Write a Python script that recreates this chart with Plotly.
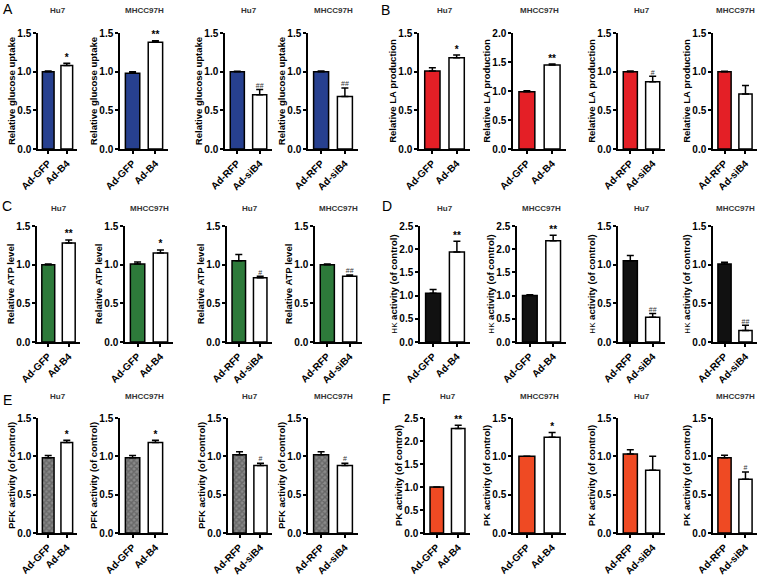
import plotly.graph_objects as go

W, H = 766, 576

# ---------------- data ----------------
cells = ["Hu7", "MHCC97H", "Hu7", "MHCC97H"]
groups_oe = ["Ad-GFP", "Ad-B4"]
groups_kd = ["Ad-RFP", "Ad-siB4"]

panel_letters = ["A", "B", "C", "D", "E", "F"]
ytitles = [
    "<b>Relative glucose uptake</b>",
    "<b>Relative LA production</b>",
    "<b>Relative ATP level</b>",
    "<span style='font-size:8px'>HK</span> <b>activity (of control)</b>",
    "<b>PFK activity (of control)</b>",
    "<b>PK activity (of control)</b>",
]

A_ctrl = [1.00, 0.98, 1.00, 1.00]
A_ctrl_err = [0.01, 0.02, 0.005, 0.01]
A_trt = [1.08, 1.38, 0.70, 0.68]
A_trt_err = [0.03, 0.02, 0.07, 0.11]
A_sig = ["*", "**", "##", "##"]
A_ymax = [1.5, 1.5, 1.5, 1.5]

B_ctrl = [1.01, 0.985, 1.00, 1.00]
B_ctrl_err = [0.04, 0.02, 0.01, 0.005]
B_trt = [1.18, 1.45, 0.87, 0.71]
B_trt_err = [0.035, 0.015, 0.07, 0.11]
B_sig = ["*", "**", "#", ""]
B_ymax = [1.5, 2.0, 1.5, 1.5]

C_ctrl = [1.00, 1.01, 1.05, 1.00]
C_ctrl_err = [0.01, 0.025, 0.08, 0.01]
C_trt = [1.28, 1.15, 0.83, 0.85]
C_trt_err = [0.04, 0.04, 0.02, 0.015]
C_sig = ["**", "*", "#", "##"]
C_ymax = [1.5, 1.5, 1.5, 1.5]

D_ctrl = [1.05, 1.00, 1.05, 1.01]
D_ctrl_err = [0.08, 0.02, 0.07, 0.02]
D_trt = [1.94, 2.18, 0.32, 0.15]
D_trt_err = [0.23, 0.12, 0.05, 0.065]
D_sig = ["**", "**", "##", "##"]
D_ymax = [2.5, 2.5, 1.5, 1.5]

E_ctrl = [0.98, 0.98, 1.02, 1.02]
E_ctrl_err = [0.03, 0.03, 0.04, 0.04]
E_trt = [1.18, 1.18, 0.88, 0.88]
E_trt_err = [0.03, 0.03, 0.03, 0.03]
E_sig = ["*", "*", "#", "#"]
E_ymax = [1.5, 1.5, 1.5, 1.5]

F_ctrl = [1.00, 1.00, 1.03, 0.98]
F_ctrl_err = [0.0, 0.0, 0.055, 0.035]
F_trt = [2.27, 1.25, 0.82, 0.70]
F_trt_err = [0.07, 0.06, 0.18, 0.095]
F_sig = ["**", "*", "", "#"]
F_ymax = [2.5, 1.5, 1.5, 1.5]

panels = [
    (A_ctrl, A_ctrl_err, A_trt, A_trt_err, A_sig, A_ymax),
    (B_ctrl, B_ctrl_err, B_trt, B_trt_err, B_sig, B_ymax),
    (C_ctrl, C_ctrl_err, C_trt, C_trt_err, C_sig, C_ymax),
    (D_ctrl, D_ctrl_err, D_trt, D_trt_err, D_sig, D_ymax),
    (E_ctrl, E_ctrl_err, E_trt, E_trt_err, E_sig, E_ymax),
    (F_ctrl, F_ctrl_err, F_trt, F_trt_err, F_sig, F_ymax),
]
ctrl_colors = ["#27408F", "#E41F26", "#2D7A3A", "#111111", "#FFFFFF", "#EF4A23"]

# ---------------- layout geometry (pixels) ----------------
row_tops = [33, 226, 418]
row_bottoms = [149, 342, 533]
col_x = [
    [(38, 77), (120, 168), (225, 272), (308, 358), (419, 470), (513, 566), (618, 665), (713, 757)],
    [(37, 80), (125, 173), (227, 272), (315, 362), (420, 470), (517, 566), (618, 665), (713, 757)],
    [(38, 77), (120, 168), (228, 272), (308, 358), (425, 470), (513, 566), (618, 665), (713, 757)],
]
title_y = [11, 208, 396]
letter_pos = [(8, 9), (385, 10), (7, 206), (387, 206), (7, 400), (386, 399)]

FONT = "Liberation Sans"

fig = go.Figure()
layout = dict(
    width=W, height=H, template="none", showlegend=False,
    margin=dict(l=0, r=0, t=0, b=0),
    paper_bgcolor="white", plot_bgcolor="white",
    font=dict(family=FONT, color="black"),
)
annotations = []

n = 0
for p, (ctrl, ctrl_err, trt, trt_err, sig, ymax) in enumerate(panels):
    row = p // 2
    col0 = (p % 2) * 4
    for k in range(4):
        n += 1
        xa = "x" if n == 1 else f"x{n}"
        ya = "y" if n == 1 else f"y{n}"
        x0, x1 = col_x[row][col0 + k]
        groups = groups_oe if k < 2 else groups_kd
        vals = [ctrl[k], trt[k]]
        errs = [ctrl_err[k], trt_err[k]]
        marker = dict(color=[ctrl_colors[p], "white"], line=dict(color="black", width=1.5))
        if p == 4:
            marker["color"] = ["#8a8a8a", "white"]
            marker["pattern"] = dict(shape=["x", ""], fgcolor="#111111",
                                     size=4, solidity=0.6, fillmode="overlay")
        fig.add_trace(go.Bar(
            x=[0, 1], y=vals, width=0.63, marker=marker,
            error_y=dict(type="data", symmetric=False, array=errs, arrayminus=[0, 0],
                         color="black", thickness=1.5, width=3.5),
            xaxis=xa, yaxis=ya, hoverinfo="skip",
        ))
        if sig[k]:
            is_hash = sig[k].startswith("#")
            fig.add_trace(go.Scatter(
                x=[1], y=[trt[k] + trt_err[k]], mode="text", text=[sig[k]],
                textposition="top center", cliponaxis=False,
                textfont=dict(family=FONT, size=7 if is_hash else 10,
                              color="#333333" if is_hash else "black",
                              weight="normal" if is_hash else "bold"),
                xaxis=xa, yaxis=ya, hoverinfo="skip",
            ))
        xkey = "xaxis" if n == 1 else f"xaxis{n}"
        ykey = "yaxis" if n == 1 else f"yaxis{n}"
        layout[xkey] = dict(
            domain=[x0 / W, x1 / W], anchor=ya, range=[-0.55, 1.55],
            tickvals=[0, 1], ticktext=groups, tickangle=-45,
            showline=True, linecolor="black", linewidth=1.5,
            ticks="outside", ticklen=3, tickwidth=1.5, tickcolor="black",
            showgrid=False, zeroline=False, fixedrange=True,
            tickfont=dict(family=FONT, size=10, color="black", weight="bold"),
        )
        yt = row_tops[row]
        yb = row_bottoms[row]
        layout[ykey] = dict(
            domain=[1 - yb / H, 1 - yt / H], anchor=xa, range=[0, ymax[k]],
            tickvals=[i * 0.5 for i in range(int(round(ymax[k] / 0.5)) + 1)],
            tickformat=".1f",
            showline=True, linecolor="black", linewidth=1.5,
            ticks="outside", ticklen=3, tickwidth=1.5, tickcolor="black",
            showgrid=False, zeroline=False, fixedrange=True,
            tickfont=dict(family=FONT, size=10, color="black", weight="bold"),
            title=dict(text=ytitles[p], standoff=0,
                       font=dict(family=FONT, size=9.5, color="black")),
        )
        annotations.append(dict(
            x=(x0 + x1) / 2 / W, y=1 - title_y[row] / H, xref="paper", yref="paper",
            text=f"<b>{cells[k]}</b>", showarrow=False,
            font=dict(family=FONT, size=8, color="#333333"),
            xanchor="center", yanchor="middle",
        ))

for (lx, ly), letter in zip(letter_pos, panel_letters):
    annotations.append(dict(
        x=lx / W, y=1 - ly / H, xref="paper", yref="paper", text=letter,
        showarrow=False, font=dict(family=FONT, size=14, color="black"),
        xanchor="center", yanchor="middle",
    ))

layout["annotations"] = annotations
fig.update_layout(**layout)
fig.write_html("out.html", config={"displayModeBar": False},
               post_script="document.body.style.margin='0px';document.body.style.overflow='hidden';")
